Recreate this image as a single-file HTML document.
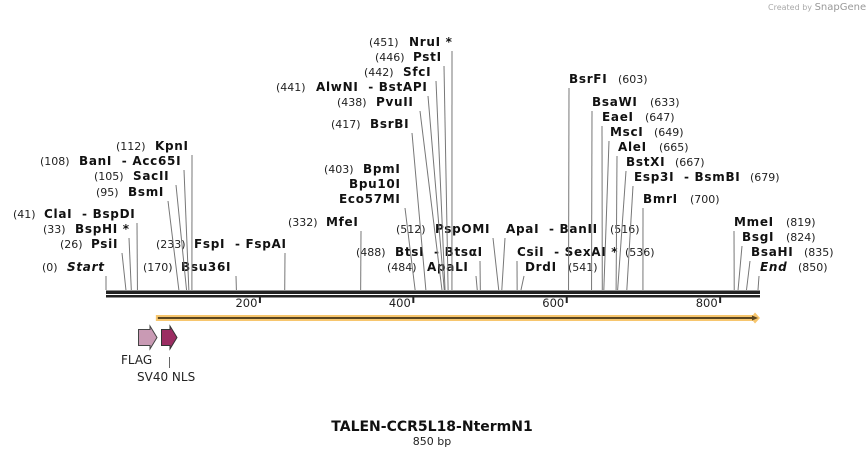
<!DOCTYPE html>
<html><head><meta charset="utf-8"><style>
html,body{margin:0;padding:0;background:#fff;width:866px;height:457px;overflow:hidden}
svg{display:block;font-family:"DejaVu Sans","Liberation Sans",sans-serif}
text{white-space:pre}
.n{font-size:11px;fill:#222}
.e{font-size:12px;font-weight:bold;fill:#111;letter-spacing:0.7px}
.l{stroke:#777;stroke-width:1}
</style></head><body>
<svg id="map" width="866" height="457" viewBox="0 0 866 457">
<text x="768" y="10" font-size="8" fill="#aaa">Created by <tspan fill="#999" font-size="10">SnapGene</tspan></text>
<g id="labels"></g>
<text x="349" y="188" class="e">Bpu10I</text>
<text x="339" y="203" class="e">Eco57MI</text>
<g id="lines"></g>
<g id="axis"></g>
<text x="432" y="431" text-anchor="middle" font-size="14" font-weight="bold" fill="#111">TALEN-CCR5L18-NtermN1</text>
<text x="432" y="445" text-anchor="middle" font-size="11" fill="#222">850 bp</text>
</svg>
<script>
// sequence data
const seqLength = 850;
const tickValues = [200, 400, 600, 800];
const siteBps = [0,26,33,41,95,105,108,112,170,233,332,403,417,438,441,442,446,451,484,488,512,516,536,541,603,633,647,649,665,667,679,700,819,824,835,850];
const siteNames = ["Start","PsiI","BspHI *","ClaI  - BspDI","BsmI","SacII","BanI  - Acc65I","KpnI","Bsu36I","FspI  - FspAI","MfeI","BpmI","BsrBI","PvuII","AlwNI  - BstAPI","SfcI","PstI","NruI *","ApaLI","BtsI  - BtsαI","PspOMI","ApaI  - BanII","CsiI  - SexAI *","DrdI","BsrFI","BsaWI","EaeI","MscI","AleI","BstXI","Esp3I  - BsmBI","BmrI","MmeI","BsgI","BsaHI","End"];
const featStart = 65, featEnd = 850;
// label layout: [numX, nameX, baselineY, lineTopX, lineTopY]
const layout = [
[42,67,271,106,276],[60,91,248,122,253],[43,75,233,129,238],[13,44,218,137,223],[96,128,196,168,201],[94,133,180,176,185],[40,79,165,184,170],[116,155,150,192,155],[143,181,271,236,276],[156,194,248,285,253],[288,326,226,361,231],
[324,363,173,405,208],[331,370,128,412,133],[337,376,106,420,111],[276,316,91,428,96],[364,403,76,436,81],[375,413,61,444,66],[369,409,46,452,51],[387,427,271,476,276],[356,395,256,480,261],[396,435,233,493,238],
[610,506,233,505,238],[625,517,256,517,261],[568,525,271,524,276],[618,569,83,569,88],[650,592,106,592,111],[645,602,121,602,126],[654,610,136,609,141],[659,618,151,617,156],[675,626,166,626,171],[750,634,181,633,186],[690,643,203,643,208],[786,734,226,734,231],[786,742,241,742,246],[804,751,256,750,261],[798,760,271,759,276]];
const X0=106, X1=758;
const xs = bp => X0 + (X1-X0)*bp/seqLength;
const NS="http://www.w3.org/2000/svg";
const mk=(t,a,p)=>{const e=document.createElementNS(NS,t);for(const k in a)e.setAttribute(k,a[k]);p.appendChild(e);return e;};
const gL=document.getElementById('labels'), gN=document.getElementById('lines'), gA=document.getElementById('axis');
siteBps.forEach((bp,i)=>{
  const [nx,mx,y,tx,ty]=layout[i];
  const num=mk('text',{x:nx,y:y,class:'n'},gL); num.textContent='('+bp+')';
  
  
  const nm=mk('text',{x:mx,y:y,class:'e'},gL); nm.textContent=siteNames[i];
  if(i===0||i===siteBps.length-1) nm.setAttribute('font-style','italic');
  
  
  const sx=xs(bp);
  const ln=mk('line',{x1:tx,y1:ty,x2:sx,y2:290,class:'l'},gN);
  
  
});
const bb=mk('rect',{x:X0,y:290.5,width:X1-X0+2,height:3.5,fill:'#222'},gA);


const bb2=mk('rect',{x:X0,y:295,width:X1-X0+2,height:2.5,fill:'#222'},gA);


tickValues.forEach(v=>{
  const x=xs(v);
  const t=mk('rect',{x:x-0.5,y:297,width:2,height:6,fill:'#222'},gA);
  
  
  const tl=mk('text',{x:x-2,y:307,'text-anchor':'end','font-size':'11.5',fill:'#222'},gA); tl.textContent=v;
  
  
});
// feature bar
const fa=xs(featStart), fb=xs(featEnd);
const fbar=mk('path',{d:`M${fa} 315 H${fb-5} L${fb-3} 312.5 L${fb+2} 318 L${fb-3} 323.5 L${fb-5} 321 H${fa} Z`,fill:'#f7c66e'},gA);


const fl=mk('path',{d:`M${fa+2} 318 H${fb-3}`,stroke:'#5a4520','stroke-width':'2'},gA);


mk('path',{d:`M${fb-6} 315.5 L${fb} 318 L${fb-6} 320.5 Z`,fill:'#5a4520'},gA);
// FLAG & SV40 NLS
const flag=mk('path',{d:'M138.5 329.5 H150 L150 326 L157 337.5 L150 349 L150 345.5 H138.5 Z',fill:'#c99ab4',stroke:'#444','stroke-width':'1'},gA);


const nls=mk('path',{d:'M161.5 329.5 H170 L170 326 L177 337.5 L170 349 L170 345.5 H161.5 Z',fill:'#9b2d62',stroke:'#333','stroke-width':'1'},gA);


const f1=mk('text',{x:121,y:364,'font-size':'12',fill:'#222'},gA); f1.textContent='FLAG';


mk('line',{x1:169.5,y1:357,x2:169.5,y2:368,stroke:'#666','stroke-width':'1'},gA);
const f2=mk('text',{x:137,y:381,'font-size':'12',fill:'#222'},gA); f2.textContent='SV40 NLS';


</script>
</body></html>
